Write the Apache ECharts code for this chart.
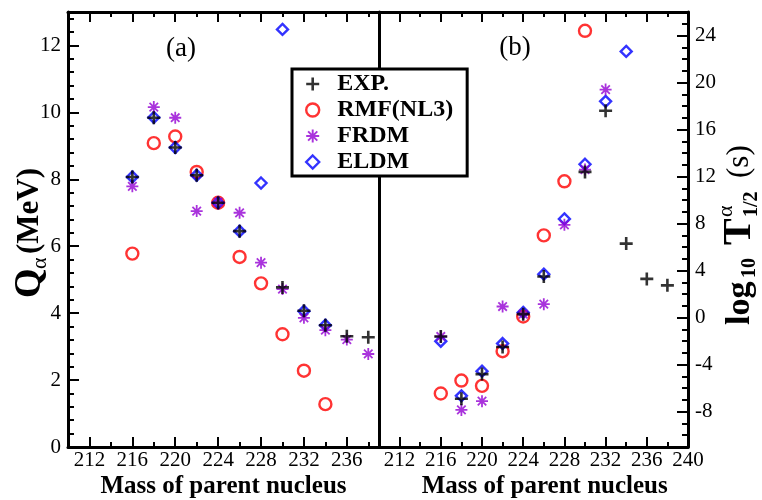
<!DOCTYPE html>
<html><head><meta charset="utf-8">
<script src="https://cdn.jsdelivr.net/npm/echarts@6/dist/echarts.min.js"></script>
<style>html,body{margin:0;padding:0;background:#fff}#c{width:762px;height:500px}</style>
</head><body><div id="c"></div>
<script>
// ---- data ----
const mass = [216, 218, 220, 222, 224, 226, 228, 230, 232, 234, 236, 238];
// panel (a): Q_alpha (MeV)
const qExp  = [8.07, 9.84, 8.95, 8.12, 7.30, 6.45, null, 4.77, 4.07, 3.64, 3.31, 3.28];
const qRmf  = [5.78, 9.08, 9.28, 8.22, 7.30, 5.68, 4.89, 3.37, 2.28, 1.28, null, null];
const qFrdm = [7.79, 10.16, 9.84, 7.05, 7.32, 7.00, 5.51, 4.72, 3.86, 3.49, 3.21, 2.78];
const qEldm = [8.07, 9.85, 8.95, 8.12, 7.30, 6.45, 7.89, 12.48, 4.06, 3.64, null, null];
// panel (b): log10 T1/2 (s)
const tExp  = [-1.6, -6.9, -4.8, -2.5, 0.3, 3.5, null, 12.4, 17.6, 6.3, 3.3, 2.75];
const tRmf  = [-6.45, -5.35, -5.8, -2.85, 0.1, 7.0, 11.6, 24.4, null, null, null, null];
const tFrdm = [-1.6, -7.85, -7.1, 0.95, 0.3, 1.15, 7.9, 12.6, 19.4, null, null, null];
const tEldm = [-2.0, -6.65, -4.55, -2.2, 0.45, 3.7, 8.4, 13.05, 18.4, 22.65, null, null];
// tick labels
const xTicksA = [212, 216, 220, 224, 228, 232, 236];
const xTicksB = [212, 216, 220, 224, 228, 232, 236, 240];
const yTicksA = [0, 2, 4, 6, 8, 10, 12];
const yTicksB = [-8, -4, 0, 4, 8, 12, 16, 20, 24];
const seriesNames = ['EXP.', 'RMF(NL3)', 'FRDM', 'ELDM'];
const panelLabels = ['(a)', '(b)'];
const xTitle = 'Mass of parent nucleus';

// ---- helpers ----
const SERIF = "'Liberation Serif','Times New Roman',serif";
function pairs(xs, ys) { return xs.map((x, i) => [x, ys[i]]).filter(p => p[1] != null); }
function range(a, b, s) { const r = []; for (let v = a; v <= b + 1e-9; v += s) r.push(Math.round(v * 1000) / 1000); return r; }

const PLUS = 'path://M4,0H6V4H10V6H6V10H4V6H0V4H4Z';
const STAR = 'path://M0,8.5H20V11.5H0Z M8.5,0H11.5V20H8.5Z M3.99,1.87L18.13,16.01L16.01,18.13L1.87,3.99Z M1.87,16.01L16.01,1.87L18.13,3.99L3.99,18.13Z';
const COL = { exp: '#000000', rmf: '#ff0000', frdm: '#9400d3', eldm: '#0000ff' };

function ax(gridIndex, pos, min, max, ticks, len, labels, line, margin) {
  return {
    type: 'value', gridIndex: gridIndex, position: pos, min: min, max: max,
    axisLine: { show: !!line, onZero: false, lineStyle: { color: '#000', width: 3 } },
    axisTick: ticks ? { show: true, inside: true, length: len, customValues: ticks, lineStyle: { color: '#000', width: 2 } } : { show: false },
    axisLabel: labels ? { show: true, customValues: labels, margin: margin, fontFamily: SERIF, fontSize: 21, color: '#000' } : { show: false },
    splitLine: { show: false }, minorTick: { show: false }
  };
}

const xAxis = [
  ax(0, 'bottom', 210, 239, xTicksA, 10, xTicksA, true, 3),          // 0
  ax(0, 'bottom', 210, 239, range(210, 238, 2), 5, null, false),     // 1
  ax(0, 'top', 210, 239, xTicksA, 10, null, true),                   // 2
  ax(0, 'top', 210, 239, range(210, 238, 2), 5, null, false),        // 3
  ax(1, 'bottom', 210, 240, xTicksB, 10, xTicksB, true, 3),          // 4
  ax(1, 'bottom', 210, 240, range(210, 240, 2), 5, null, false),     // 5
  ax(1, 'top', 210, 240, xTicksB, 10, null, true),                   // 6
  ax(1, 'top', 210, 240, range(210, 240, 2), 5, null, false)         // 7
];
const yAxis = [
  ax(0, 'left', 0, 13, yTicksA, 11, yTicksA, true, 7),               // 0
  ax(0, 'left', 0, 13, range(0, 12.8, 0.4), 6, null, false),         // 1
  ax(1, 'left', -11, 26, null, 0, null, true),                       // 2 divider
  ax(1, 'right', -11, 26, yTicksB, 11, yTicksB, true, 7),            // 3
  ax(1, 'right', -11, 26, range(-11, 26, 1), 6, null, false)         // 4
];

function sc(name, data, xi, yi, sym, size, col, z, open) {
  return {
    type: 'scatter', name: name, data: data, xAxisIndex: xi, yAxisIndex: yi,
    symbol: sym, symbolSize: size, z: z, silent: true,
    itemStyle: open ? { color: 'rgba(255,255,255,0)', borderColor: col, borderWidth: 2.4 } : { color: col, borderWidth: 0 }
  };
}

const series = [
  sc(seriesNames[1], pairs(mass, qRmf), 0, 0, 'circle', 12, COL.rmf, 2, true),
  sc(seriesNames[3], pairs(mass, qEldm), 0, 0, 'diamond', 11, COL.eldm, 3, true),
  sc(seriesNames[2], pairs(mass, qFrdm), 0, 0, STAR, 12, COL.frdm, 4, false),
  sc(seriesNames[0], pairs(mass, qExp), 0, 0, PLUS, 13, COL.exp, 5, false),
  sc(seriesNames[1], pairs(mass, tRmf), 4, 3, 'circle', 12, COL.rmf, 2, true),
  sc(seriesNames[3], pairs(mass, tEldm), 4, 3, 'diamond', 11, COL.eldm, 3, true),
  sc(seriesNames[2], pairs(mass, tFrdm), 4, 3, STAR, 12, COL.frdm, 4, false),
  sc(seriesNames[0], pairs(mass, tExp), 4, 3, PLUS, 13, COL.exp, 5, false)
];

const legend = {
  orient: 'vertical', left: 292, top: 69, z: 20,
  backgroundColor: '#fff', borderColor: '#000', borderWidth: 3,
  padding: [3, 14, 2, 13], itemGap: 2, itemWidth: 13, itemHeight: 13,
  selectedMode: false,
  textStyle: { fontFamily: SERIF, fontWeight: 'bold', fontSize: 24, color: '#000', padding: [0, 0, 0, 13] },
  data: [
    { name: seriesNames[0], icon: PLUS, itemStyle: { color: COL.exp, borderWidth: 0 } },
    { name: seriesNames[1], icon: 'circle', itemStyle: { color: 'rgba(255,255,255,0)', borderColor: COL.rmf, borderWidth: 2.4 } },
    { name: seriesNames[2], icon: STAR, itemStyle: { color: COL.frdm, borderWidth: 0 } },
    { name: seriesNames[3], icon: 'diamond', itemStyle: { color: 'rgba(255,255,255,0)', borderColor: COL.eldm, borderWidth: 2.4 } }
  ]
};

function txt(x, y, s, size, weight, align) {
  return { type: 'text', x: x, y: y, style: { text: s, fontFamily: SERIF, fontSize: size, fontWeight: weight || 'normal', fill: '#000', align: align || 'left', verticalAlign: 'middle' } };
}

const graphic = [
  txt(181, 49, panelLabels[0], 27, 'normal', 'center'),
  txt(515, 48, panelLabels[1], 27, 'normal', 'center'),
  txt(223.5, 487, xTitle, 25, 'bold', 'center'),
  txt(544.7, 487, xTitle, 25, 'bold', 'center'),
  // left axis title: Q_alpha (MeV), rotated
  { type: 'group', x: 30, y: 298, rotation: Math.PI / 2, children: [
    txt(0, 0, 'Q', 38, 'bold'),
    txt(29, 10, 'α', 22),
    txt(44, 0, '(MeV)', 31, 'bold')
  ] },
  // right axis title: log10 T^alpha_1/2 (s), rotated
  { type: 'group', x: 740, y: 325, rotation: Math.PI / 2, children: [
    txt(0, 0, 'log', 34, 'bold'),
    txt(47, 10, '10', 20, 'bold'),
    txt(80, 0, 'T', 40, 'bold'),
    txt(108, -14, 'α', 22),
    txt(108, 12, '1/2', 20, 'bold'),
    txt(147, 0, '(s)', 31)
  ] }
];
graphic.forEach(g => { g.z = 30; });

const chart = echarts.init(document.getElementById('c'), null, { renderer: 'canvas' });
chart.setOption({
  animation: false,
  backgroundColor: '#fff',
  grid: [
    { left: 68, top: 12, width: 311, height: 435, containLabel: false },
    { left: 379, top: 12, width: 309, height: 435, containLabel: false }
  ],
  xAxis: xAxis, yAxis: yAxis, series: series, legend: legend, graphic: graphic
});
</script>
</body></html>
